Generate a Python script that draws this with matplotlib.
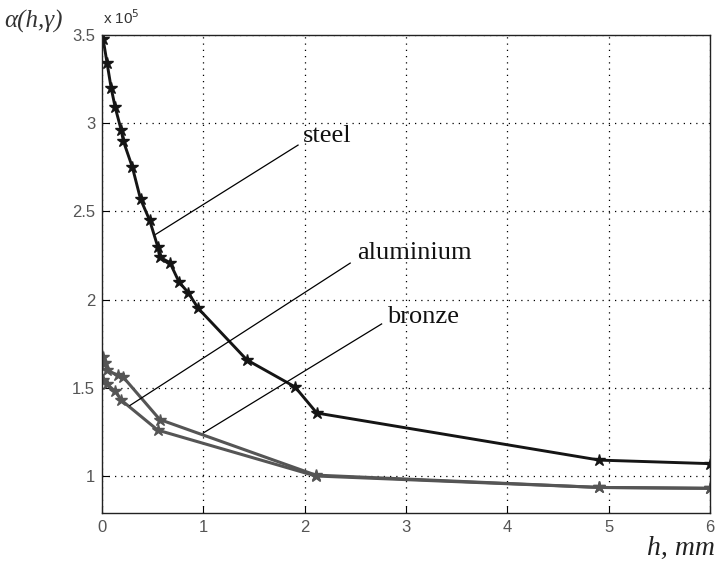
import numpy as np
import matplotlib
matplotlib.use("Agg")
import matplotlib.pyplot as plt

# thickness h, mm and alpha(h, gamma) / 1e5
steel_h = [0.01, 0.05, 0.09, 0.13, 0.19, 0.21, 0.30, 0.38, 0.47, 0.55, 0.57,
           0.67, 0.76, 0.85, 0.95, 1.43, 1.905, 2.12, 4.91, 6.0]
steel_a = [3.48, 3.34, 3.20, 3.09, 2.96, 2.90, 2.75, 2.57, 2.45, 2.30, 2.24,
           2.21, 2.10, 2.04, 1.95, 1.658, 1.505, 1.357, 1.09, 1.07]

alu_h = [0.01, 0.03, 0.05, 0.16, 0.21, 0.57, 2.11, 4.91, 6.0]
alu_a = [1.675, 1.64, 1.60, 1.57, 1.56, 1.32, 1.005, 0.935, 0.93]

bronze_h = [0.01, 0.05, 0.13, 0.19, 0.55, 2.11, 4.91, 6.0]
bronze_a = [1.545, 1.52, 1.48, 1.43, 1.26, 1.00, 0.935, 0.93]

x_ticks = [0, 1, 2, 3, 4, 5, 6]
y_ticks = [1, 1.5, 2, 2.5, 3, 3.5]
y_labels = ["1", "1.5", "2", "2.5", "3", "3.5"]

# label, text anchor (left, baseline), leader line from -> to
labels = [
    ("steel", (1.98, 2.893), (1.935, 2.876), (0.53, 2.37)),
    ("aluminium", (2.52, 2.23), (2.45, 2.207), (0.276, 1.40)),
    ("bronze", (2.81, 1.87), (2.76, 1.862), (1.0, 1.244)),
]

fig = plt.figure(figsize=(7.17, 5.66), dpi=100)
ax = fig.add_axes([0.1423, 0.0936, 0.8477, 0.8445])

ax.plot(steel_h, steel_a, color="#151515", lw=2.1, marker="*", ms=9,
        mec="#151515", mfc="#151515")
ax.plot(alu_h, alu_a, color="#555555", lw=2.2, marker="*", ms=9,
        mec="#555555", mfc="#555555")
ax.plot(bronze_h, bronze_a, color="#555555", lw=2.2, marker="*", ms=9,
        mec="#555555", mfc="#555555")

for name, (tx, ty), (l0x, l0y), (l1x, l1y) in labels:
    ax.plot([l0x, l1x], [l0y, l1y], color="black", lw=0.9)
    ax.text(tx, ty, name, family="Liberation Serif", fontsize=19,
            ha="left", va="baseline", color="#111111")

ax.set_xlim(0, 6)
ax.set_ylim(0.79, 3.5)
ax.set_xticks(x_ticks)
ax.set_yticks(y_ticks)
ax.set_xticklabels([str(t) for t in x_ticks])
ax.set_yticklabels(y_labels)
ax.grid(True, color="black", linestyle=(0, (1, 4)), lw=0.9)
ax.tick_params(direction="in", length=5, labelsize=12, labelcolor="#555555",
               pad=5)
for lab in ax.get_xticklabels() + ax.get_yticklabels():
    lab.set_family("Liberation Sans")
for sp in ax.spines.values():
    sp.set_linewidth(1.0)
    sp.set_color("#222222")

fig.text(0.006, 0.952, "α(h,γ)", fontsize=18, style="italic", color="#333333",
         family="Liberation Serif", ha="left", va="baseline")
fig.text(0.143, 0.958, r"x 10$^5$", fontsize=11, color="#333333",
         family="Liberation Sans", ha="left", va="baseline")
fig.text(0.997, 0.019, "h, mm", fontsize=20, style="italic",
         family="Liberation Serif", ha="right", va="baseline", color="#222222")

fig.savefig("out.png", dpi=100)
